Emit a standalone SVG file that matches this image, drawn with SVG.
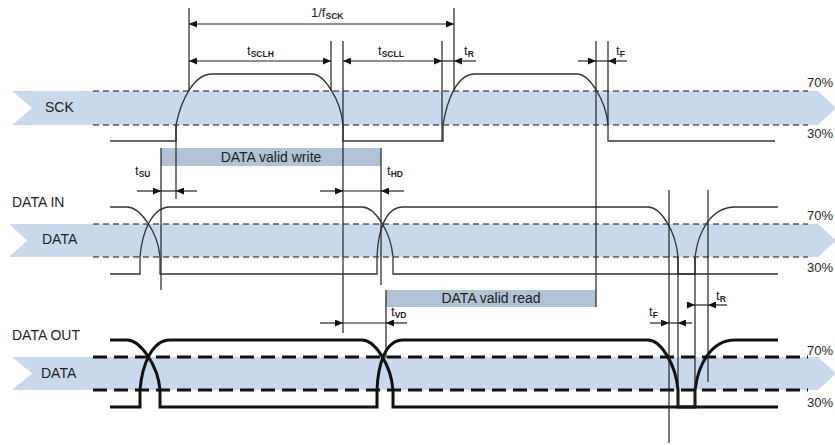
<svg xmlns="http://www.w3.org/2000/svg" width="835" height="445" viewBox="0 0 835 445">
<style>
.band{fill:#c9d9eb}
.box{fill:#b0c2d4}
.dash{fill:none;stroke:#111;stroke-width:1.2;stroke-dasharray:6 4}
.dashb{fill:none;stroke:#111;stroke-width:3;stroke-dasharray:14 7}
.sig{fill:none;stroke:#333;stroke-width:1.3}
.sigb{fill:none;stroke:#111;stroke-width:3}
.ref{fill:none;stroke:#222;stroke-width:1.2}
.arr{fill:none;stroke:#222;stroke-width:1.2}
.lbl{font-family:"Liberation Sans",Arial,sans-serif;font-size:14px;fill:#1f1f1f}
.pct{font-family:"Liberation Sans",Arial,sans-serif;font-size:13px;fill:#1f1f1f}
.t{font-family:"Liberation Sans",Arial,sans-serif;font-size:13px;fill:#1f1f1f}
.s{font-size:8.5px;font-weight:bold}
</style>
<defs>
<marker id="ah" markerUnits="userSpaceOnUse" markerWidth="8" markerHeight="7" refX="8" refY="3.5" orient="auto">
<path d="M0,0 L8,3.5 L0,7 z" fill="#111"/>
</marker>
</defs>

<g id="bands">
<polygon class="band" points="12,91 818,91 836,108 818,125 12,125 32,108"/>
<polygon class="band" points="9,224 818,224 836,240.5 818,257 9,257 27,240.5"/>
<polygon class="band" points="12,357 818,357 836,373.5 818,390 12,390 32,373.5"/>
</g>

<g id="boxes">
<g id="valid-write">
<rect class="box" x="161" y="148" width="220" height="18"/>
<text class="lbl" x="271" y="162" text-anchor="middle">DATA valid write</text>
</g>
<g id="valid-read">
<rect class="box" x="386" y="290" width="210" height="17"/>
<text class="lbl" x="491" y="303" text-anchor="middle">DATA valid read</text>
</g>
</g>

<g id="thresholds">
<line class="dash" x1="93" y1="91" x2="808" y2="91"/>
<line class="dash" x1="93" y1="125" x2="808" y2="125"/>
<line class="dash" x1="93" y1="224" x2="808" y2="224"/>
<line class="dash" x1="93" y1="257" x2="808" y2="257"/>
<line class="dashb" x1="93" y1="357" x2="808" y2="357"/>
<line class="dashb" x1="93" y1="390" x2="808" y2="390"/>
<text class="pct" x="807" y="87">70%</text>
<text class="pct" x="807" y="138">30%</text>
<text class="pct" x="807" y="220">70%</text>
<text class="pct" x="807" y="272">30%</text>
<text class="pct" x="807" y="355">70%</text>
<text class="pct" x="807" y="407">30%</text>
</g>

<g id="sck">
<text class="lbl" x="45" y="112">SCK</text>
<path class="sig" d="M110,141 H176 V125 C181,100 194,74 212,74 H312 C324,74 341,100 343,125 V141 H443 V125 C447,100 457,74 475,74 H577 C589,74 606,100 608,125 V141 H775"/>
</g>

<g id="data-in">
<text class="lbl" x="12" y="207">DATA IN</text>
<text class="lbl" x="42" y="244">DATA</text>
<path class="sig" d="M110,207 H127 C140,207 158,232 160,257 V274 H377 V257 C378,232 385,207 403,207 H648 C661,207 676,232 678,257 V274 H778"/>
<path class="sig" d="M110,274 H140 V257 C142,232 152,207 170,207 H362 C375,207 391,232 393,257 V274 H695 V257 C698,232 711,207 735,207 H778"/>
</g>

<g id="data-out">
<text class="lbl" x="12" y="340">DATA OUT</text>
<text class="lbl" x="41" y="378">DATA</text>
<path class="sigb" d="M110,340 H127 C140,340 158,365 160,390 V407 H377 V390 C378,365 385,340 403,340 H648 C661,340 676,365 678,390 V407 H778"/>
<path class="sigb" d="M110,407 H140 V390 C142,365 152,340 170,340 H362 C375,340 391,365 393,390 V407 H695 V390 C698,365 711,340 735,340 H778"/>
</g>

<g id="connectors">
<line class="ref" x1="189" y1="8" x2="189" y2="91"/>
<line class="ref" x1="454" y1="8" x2="454" y2="91"/>
<line class="ref" x1="331" y1="41" x2="331" y2="91"/>
<line class="ref" x1="343" y1="41" x2="343" y2="333"/>
<line class="ref" x1="442" y1="41" x2="442" y2="141"/>
<line class="ref" x1="596" y1="41" x2="596" y2="307"/>
<line class="ref" x1="608" y1="41" x2="608" y2="125"/>
<line class="ref" x1="176" y1="125" x2="176" y2="199"/>
<line class="ref" x1="161" y1="148" x2="161" y2="290"/>
<line class="ref" x1="381" y1="148" x2="381" y2="285"/>
<line class="ref" x1="386" y1="290" x2="386" y2="358"/>
<line class="ref" x1="669" y1="190" x2="669" y2="443"/>
<line class="ref" x1="678" y1="257" x2="678" y2="407"/>
<line class="ref" x1="695" y1="257" x2="695" y2="407"/>
<line class="ref" x1="708" y1="190" x2="708" y2="382"/>

<line class="arr" x1="320" y1="24" x2="189" y2="24" marker-end="url(#ah)"/>
<line class="arr" x1="320" y1="24" x2="454" y2="24" marker-end="url(#ah)"/>
<line class="arr" x1="260" y1="61" x2="189" y2="61" marker-end="url(#ah)"/>
<line class="arr" x1="260" y1="61" x2="331" y2="61" marker-end="url(#ah)"/>
<line class="arr" x1="392" y1="61" x2="343" y2="61" marker-end="url(#ah)"/>
<line class="arr" x1="392" y1="61" x2="442" y2="61" marker-end="url(#ah)"/>
<line class="arr" x1="442" y1="61" x2="454" y2="61"/>
<line class="arr" x1="476" y1="61" x2="454" y2="61" marker-end="url(#ah)"/>
<line class="arr" x1="578" y1="61" x2="596" y2="61" marker-end="url(#ah)"/>
<line class="arr" x1="596" y1="61" x2="608" y2="61"/>
<line class="arr" x1="627" y1="61" x2="608" y2="61" marker-end="url(#ah)"/>
<line class="arr" x1="137" y1="191" x2="161" y2="191" marker-end="url(#ah)"/>
<line class="arr" x1="161" y1="191" x2="176" y2="191"/>
<line class="arr" x1="197" y1="191" x2="176" y2="191" marker-end="url(#ah)"/>
<line class="arr" x1="320" y1="191" x2="343" y2="191" marker-end="url(#ah)"/>
<line class="arr" x1="343" y1="191" x2="381" y2="191"/>
<line class="arr" x1="404" y1="191" x2="381" y2="191" marker-end="url(#ah)"/>
<line class="arr" x1="320" y1="323" x2="343" y2="323" marker-end="url(#ah)"/>
<line class="arr" x1="343" y1="323" x2="386" y2="323"/>
<line class="arr" x1="407" y1="323" x2="386" y2="323" marker-end="url(#ah)"/>
<line class="arr" x1="650" y1="323" x2="669" y2="323" marker-end="url(#ah)"/>
<line class="arr" x1="669" y1="323" x2="678" y2="323"/>
<line class="arr" x1="692" y1="323" x2="678" y2="323" marker-end="url(#ah)"/>
<line class="arr" x1="688" y1="305" x2="695" y2="305" marker-end="url(#ah)"/>
<line class="arr" x1="695" y1="305" x2="708" y2="305"/>
<line class="arr" x1="727" y1="305" x2="708" y2="305" marker-end="url(#ah)"/>
</g>

<g id="timing-labels">
<text class="t" x="311" y="17">1/f<tspan class="s" dy="2">SCK</tspan></text>
<text class="t" x="247" y="55">t<tspan class="s" dy="2">SCLH</tspan></text>
<text class="t" x="378" y="55">t<tspan class="s" dy="2">SCLL</tspan></text>
<text class="t" x="464" y="55">t<tspan class="s" dy="2">R</tspan></text>
<text class="t" x="616" y="55">t<tspan class="s" dy="2">F</tspan></text>
<text class="t" x="135" y="175">t<tspan class="s" dy="2">SU</tspan></text>
<text class="t" x="387" y="175">t<tspan class="s" dy="2">HD</tspan></text>
<text class="t" x="391" y="316">t<tspan class="s" dy="2">VD</tspan></text>
<text class="t" x="649" y="316">t<tspan class="s" dy="2">F</tspan></text>
<text class="t" x="716" y="300">t<tspan class="s" dy="2">R</tspan></text>
</g>
</svg>
